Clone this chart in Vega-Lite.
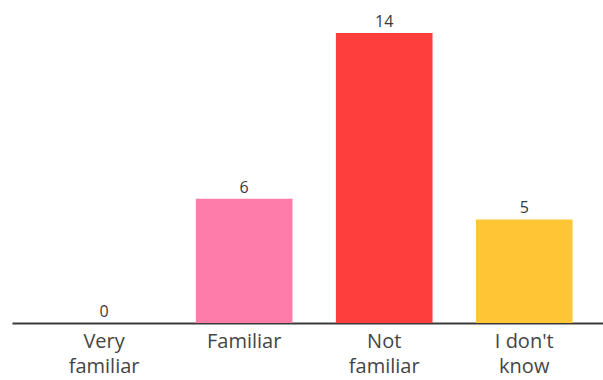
{
  "$schema": "https://vega.github.io/schema/vega-lite/v6.json",
  "autosize": "none",
  "padding": {"left": 12, "top": 33, "right": 0, "bottom": 57},
  "width": 591,
  "height": 290,
  "background": "white",
  "data": {
    "values": [
      {"answer": "Very familiar", "count": 0},
      {"answer": "Familiar", "count": 6},
      {"answer": "Not familiar", "count": 14},
      {"answer": "I don't know", "count": 5}
    ]
  },
  "encoding": {
    "x": {
      "field": "answer",
      "type": "nominal",
      "sort": null,
      "scale": {"paddingInner": 0.31, "paddingOuter": 0.265, "align": 0.59},
      "axis": {
        "title": null,
        "labelAngle": 0,
        "ticks": false,
        "grid": false,
        "domainColor": "#3a3a3a",
        "domainWidth": 2,
        "labelFont": "Open Sans",
        "labelFontSize": 20,
        "labelColor": "#454545",
        "labelPadding": 8,
        "labelLineHeight": 25,
        "labelBaseline": "top",
        "labelExpr": "datum.label == 'Very familiar' ? ['Very', 'familiar'] : datum.label == 'Not familiar' ? ['Not', 'familiar'] : datum.label == \"I don't know\" ? [\"I don't\", 'know'] : datum.label"
      }
    },
    "y": {
      "field": "count",
      "type": "quantitative",
      "scale": {"domain": [0, 14], "nice": false},
      "axis": null
    }
  },
  "layer": [
    {
      "mark": {"type": "bar"},
      "encoding": {
        "color": {
          "field": "answer",
          "type": "nominal",
          "legend": null,
          "scale": {
            "domain": ["Very familiar", "Familiar", "Not familiar", "I don't know"],
            "range": ["#2f7fd8", "#fd7ca9", "#fe3e3d", "#fec634"]
          }
        }
      }
    },
    {
      "mark": {
        "type": "text",
        "baseline": "alphabetic",
        "dy": -6,
        "font": "Open Sans",
        "fontSize": 16,
        "color": "#3a3a3a"
      },
      "encoding": {
        "text": {"field": "count", "type": "quantitative"}
      }
    }
  ],
  "config": {"view": {"stroke": null}}
}
